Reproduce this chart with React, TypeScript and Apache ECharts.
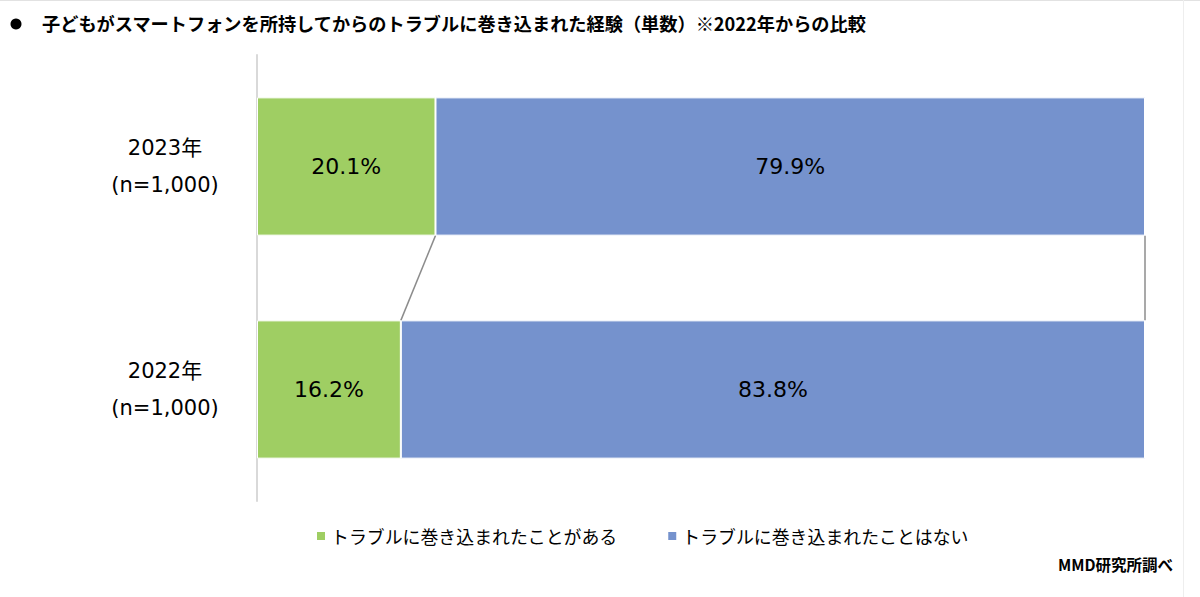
import React, { useEffect, useRef } from "react";
import * as echarts from "echarts";

const categories = ["2022年\n(n=1,000)", "2023年\n(n=1,000)"];
const seriesNames = ["トラブルに巻き込まれたことがある", "トラブルに巻き込まれたことはない"];
const hadTrouble = [16.2, 20.1];
const noTrouble = [83.8, 79.9];
const colors = ["#9fce63", "#7592cd"];
const titleText = "子どもがスマートフォンを所持してからのトラブルに巻き込まれた経験（単数）※2022年からの比較";
const sourceText = "MMD研究所調べ";

const BAR_RATIO = 0.62;
const FONT = "'Noto Sans CJK JP', 'Noto Sans', sans-serif";
const NUM_FONT = "'DejaVu Sans', 'Noto Sans CJK JP', sans-serif";

export default function App() {
  const ref = useRef<HTMLDivElement>(null);
  useEffect(() => {
    if (!ref.current) return;
    const chart = echarts.init(ref.current, null, { renderer: "svg" });
    const connectors = [
      [hadTrouble[1], hadTrouble[0]],
      [hadTrouble[1] + noTrouble[1], hadTrouble[0] + noTrouble[0]],
    ];
    const labelCfg = {
      show: true,
      position: "inside",
      formatter: (p: any) => p.value.toFixed(1) + "%",
      fontSize: 22,
      color: "#000",
      fontFamily: NUM_FONT,
    };
    chart.setOption({
      animation: false,
      backgroundColor: "#ffffff",
      textStyle: { fontFamily: FONT },
      title: [
        {
          text: titleText,
          left: 37,
          top: 9,
          textStyle: { fontSize: 18.2, fontWeight: "bold", color: "#000", fontFamily: FONT },
        },
      ],
      graphic: [
        { type: "line", shape: { x1: 0, y1: 0.5, x2: 1200, y2: 0.5 }, style: { stroke: "#e2e2e2", lineWidth: 1 } },
        { type: "line", shape: { x1: 1183.5, y1: 0, x2: 1183.5, y2: 597 }, style: { stroke: "#eeeeee", lineWidth: 1 } },
        { type: "circle", shape: { cx: 16, cy: 24, r: 5.5 }, style: { fill: "#000" } },
        {
          type: "text",
          right: 27,
          top: 556,
          style: { text: sourceText, fontSize: 15.5, fontWeight: "bold", fill: "#000", fontFamily: FONT },
        },
      ],
      legend: {
        top: 522,
        left: 310,
        itemWidth: 10,
        itemHeight: 10,
        itemGap: 49,
        icon: "rect",
        textStyle: { fontSize: 17.9, color: "#000", fontFamily: FONT },
        data: seriesNames,
      },
      grid: { left: 257, right: 55, top: 55, bottom: 96 },
      xAxis: {
        type: "value",
        min: 0,
        max: 100,
        show: false,
      },
      yAxis: {
        type: "category",
        data: categories,
        axisLine: { show: true, lineStyle: { color: "#d9d9d9", width: 2 } },
        axisTick: { show: false },
        axisLabel: {
          align: "center",
          margin: 92,
          fontSize: 21,
          lineHeight: 37,
          color: "#000",
          fontFamily: NUM_FONT,
        },
      },
      series: [
        {
          name: seriesNames[0],
          type: "bar",
          stack: "total",
          data: hadTrouble,
          barWidth: BAR_RATIO * 100 + "%",
          itemStyle: { color: colors[0], borderColor: "#fff", borderWidth: 1 },
          label: labelCfg,
        },
        {
          name: seriesNames[1],
          type: "bar",
          stack: "total",
          data: noTrouble,
          itemStyle: { color: colors[1], borderColor: "#fff", borderWidth: 1 },
          label: labelCfg,
        },
        {
          type: "custom",
          silent: true,
          data: connectors,
          encode: { x: [0, 1] },
          renderItem: (params: any, api: any) => {
            const top = api.coord([api.value(0), 1]);
            const bot = api.coord([api.value(1), 0]);
            const band = api.size([0, 1])[1];
            const half = (band * BAR_RATIO) / 2;
            return {
              type: "line",
              shape: { x1: top[0], y1: top[1] + half, x2: bot[0], y2: bot[1] - half },
              style: { stroke: "#8c8c8c", lineWidth: 1.5 },
            };
          },
        },
      ],
    });
    return () => chart.dispose();
  }, []);
  return (
    <div
      ref={ref}
      style={{ position: "absolute", left: 0, top: 0, width: 1200, height: 597 }}
    />
  );
}
